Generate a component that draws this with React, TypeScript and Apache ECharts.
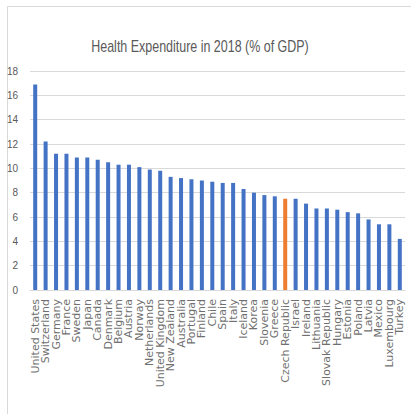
import React, { useEffect, useRef } from "react";
import * as echarts from "echarts";

const countries = [
  "United States", "Switzerland", "Germany", "France", "Sweden", "Japan", "Canada",
  "Denmark", "Belgium", "Austria", "Norway", "Netherlands", "United Kingdom",
  "New Zealand", "Australia", "Portugal", "Finland", "Chile", "Spain", "Italy",
  "Iceland", "Korea", "Slovenia", "Greece", "Czech Republic", "Israel", "Ireland",
  "Lithuania", "Slovak Republic", "Hungary", "Estonia", "Poland", "Latvia", "Mexico",
  "Luxembourg", "Turkey",
];
const values = [
  16.9, 12.2, 11.2, 11.2, 10.9, 10.9, 10.7, 10.5, 10.3, 10.3, 10.1, 9.9, 9.8,
  9.3, 9.2, 9.1, 9.0, 8.9, 8.8, 8.8, 8.3, 8.0, 7.8, 7.7, 7.5, 7.5, 7.1,
  6.7, 6.7, 6.6, 6.4, 6.3, 5.8, 5.4, 5.4, 4.2,
];
const highlight = "Czech Republic";
const yTicks = { min: 0, max: 18, interval: 2 };
const title = "Health Expenditure in 2018 (% of GDP)";

export default function App() {
  const ref = useRef<HTMLDivElement>(null);
  useEffect(() => {
    if (!ref.current) return;
    const chart = echarts.init(ref.current, null, { renderer: "svg" });
    chart.setOption({
      animation: false,
      backgroundColor: "#ffffff",
      graphic: [
        {
          type: "rect",
          shape: { x: 7.5, y: 6.5, width: 420, height: 420 },
          style: { fill: "none", stroke: "#d9d9d9", lineWidth: 1 },
          silent: true,
        },
        {
          type: "text",
          x: 200,
          y: 46,
          scaleX: 0.78,
          style: {
            text: title,
            fontFamily: "Liberation Sans, sans-serif",
            fontSize: 16,
            fill: "#595959",
            textAlign: "center",
            textVerticalAlign: "middle",
          },
          silent: true,
        },
      ],
      grid: { left: 30, right: 6, top: 71, bottom: 124 },
      xAxis: {
        type: "category",
        data: countries,
        axisLine: { lineStyle: { color: "#d9d9d9" } },
        axisTick: { show: false },
        axisLabel: {
          interval: 0,
          rotate: 90,
          margin: 9,
          fontSize: 11,
          fontFamily: "DejaVu Sans, sans-serif",
          color: "#707070",
        },
      },
      yAxis: {
        type: "value",
        min: yTicks.min,
        max: yTicks.max,
        interval: yTicks.interval,
        axisLine: { show: false },
        axisTick: { show: false },
        splitLine: { lineStyle: { color: "#d9d9d9" } },
        axisLabel: {
          margin: 12,
          fontSize: 10,
          fontFamily: "Liberation Sans, sans-serif",
          color: "#595959",
        },
      },
      series: [
        {
          type: "bar",
          barWidth: 4,
          data: values.map((v, i) => ({
            value: v,
            itemStyle: { color: countries[i] === highlight ? "#ED7D31" : "#4472C4" },
          })),
        },
      ],
    });
    return () => chart.dispose();
  }, []);
  return (
    <div
      ref={ref}
      style={{ position: "fixed", left: 0, top: 0, width: 411, height: 414 }}
    />
  );
}
